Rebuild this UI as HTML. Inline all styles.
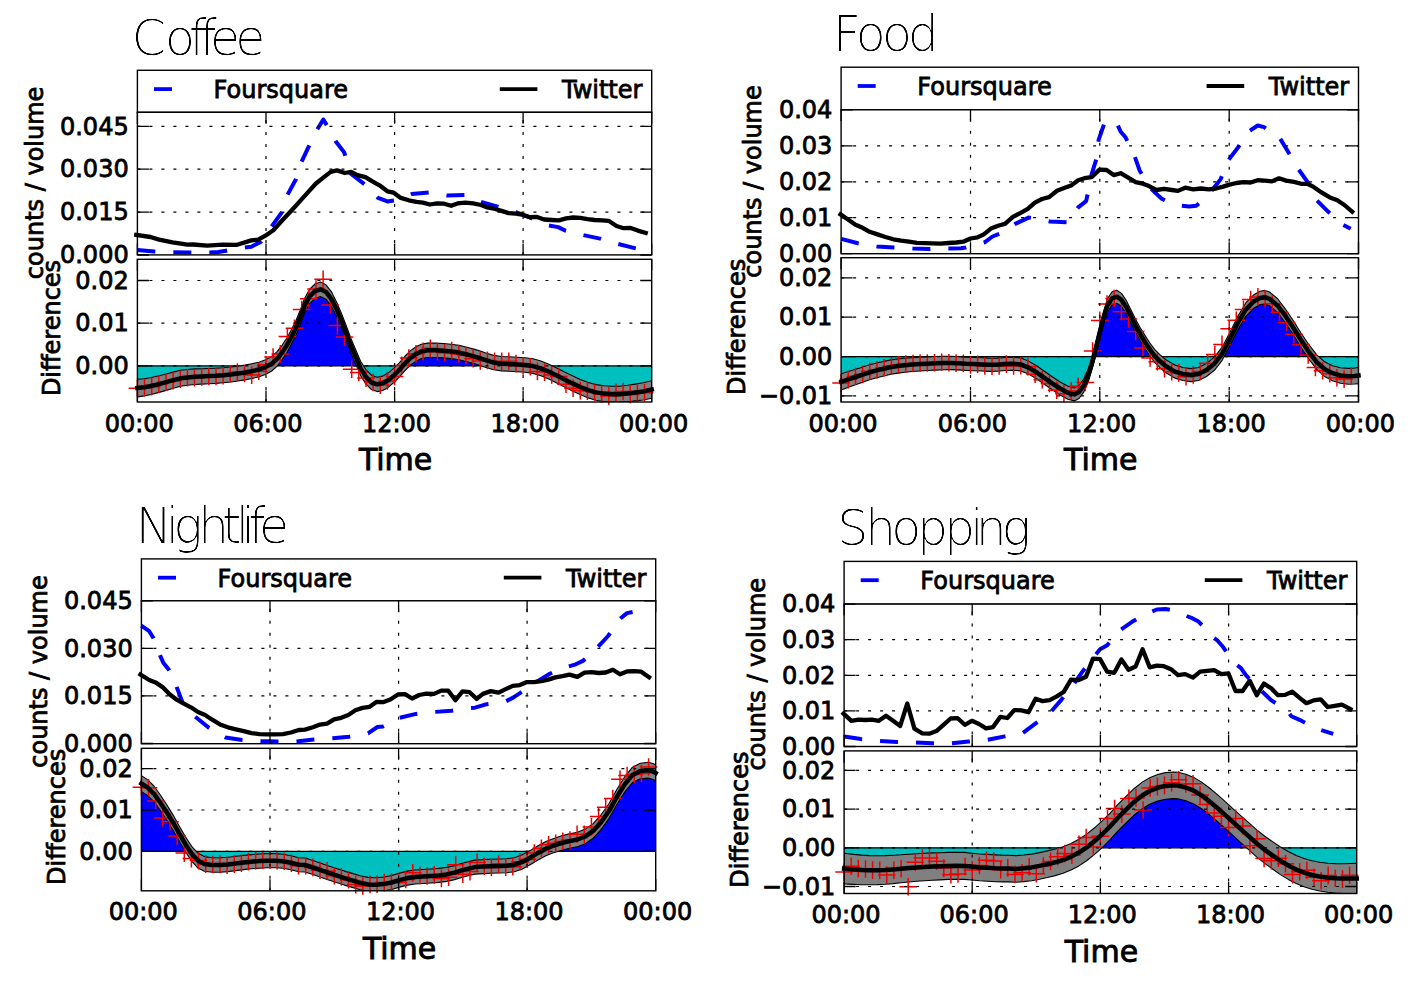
<!DOCTYPE html>
<html><head><meta charset="utf-8"><title>Foursquare vs Twitter</title>
<style>
html,body{margin:0;padding:0;background:#fff;}
svg{display:block;}
text{font-family:'DejaVu Sans', 'Liberation Sans', sans-serif;fill:#000;}
.tl{font-size:24px;stroke:#000;stroke-width:0.8px;}
.lg{font-size:24px;stroke:#000;stroke-width:0.8px;}
.xl{font-size:30px;stroke:#000;stroke-width:0.9px;}
.ttl{font-family:'DejaVu Sans',sans-serif;font-weight:200;font-size:49px;fill:#000;font-variant-ligatures:none;}
.fr{fill:none;stroke:#000;stroke-width:1.4;}
.tk{fill:none;stroke:#000;stroke-width:1.3;}
.grid{fill:none;stroke:#000;stroke-width:1.2;stroke-dasharray:3 9;}
.fs{fill:none;stroke:#0000ff;stroke-width:4;stroke-dasharray:18 18;stroke-linejoin:round;}
.tw{fill:none;stroke:#000;stroke-width:4.3;stroke-linejoin:round;stroke-linecap:square;}
.cv{fill:none;stroke:#000;stroke-width:4.5;stroke-linejoin:round;stroke-linecap:square;}
</style></head><body>
<svg width="1410" height="984" viewBox="0 0 1410 984">
<defs><filter id="thin" x="-5%" y="-10%" width="110%" height="120%"><feComponentTransfer><feFuncA type="linear" slope="1.8" intercept="-0.8"/></feComponentTransfer></filter></defs>
<rect width="1410" height="984" fill="#fff"/>
<text x="131.8 164.9 189.0 199.4 210.0 235.2" y="54.6" class="ttl" filter="url(#thin)">Coffee</text>
<rect x="137.4" y="70.3" width="514.3" height="42.0" class="fr"/>
<line x1="154.0" y1="89.1" x2="172.0" y2="89.1" stroke="#0000ff" stroke-width="3.8"/>
<line x1="499.8" y1="89.1" x2="537.4" y2="89.1" stroke="#000" stroke-width="3.8"/>
<text x="213.6" y="98.1" class="lg">Foursquare</text>
<text x="642.4" y="98.1" class="lg" text-anchor="end">Twitter</text>
<clipPath id="c_coffee_top"><rect x="137.4" y="112.3" width="514.3" height="142.6"/></clipPath>
<rect x="137.4" y="112.3" width="514.3" height="142.6" fill="#fff"/>
<g clip-path="url(#c_coffee_top)">
</g>
<polyline points="137.4,250.0 154.4,251.5 173.3,252.3 190.6,252.6 209.5,252.6 218.2,252.0 226.1,250.7 245.0,247.5 251.3,246.7 260.7,242.0 271.7,226.3 282.0,212.1 287.5,194.8 296.1,179.0 301.6,161.7 308.7,146.7 317.3,129.4 323.3,119.5 326.8,125.2 336.2,142.0 344.2,152.4 350.5,173.5 364.9,184.5 378.0,197.9 387.4,201.4 395.3,200.3 411.8,194.0 429.1,192.4 447.2,195.5 464.6,195.1 481.0,201.9 497.6,206.6 515.7,212.1 529.1,217.2 548.8,225.5 558.2,227.1 564.5,230.3 582.7,235.0 600.0,238.6 617.3,243.7 634.7,248.1 644.5,250.5" class="fs"/>
<polyline points="136.3,234.9 150.5,237.0 159.1,239.6 172.5,242.3 187.5,244.7 193.0,244.5 207.2,245.6 222.9,244.7 237.1,244.8 251.3,240.4 258.3,239.6 265.4,235.7 273.3,230.2 281.2,221.5 292.2,209.7 300.0,201.1 307.9,192.4 315.7,183.7 323.6,177.4 330.7,171.9 337.0,170.4 344.9,173.0 351.2,171.9 357.5,175.1 365.4,177.1 372.4,181.4 379.5,185.3 387.4,191.3 393.7,192.7 400.8,197.9 408.7,200.3 416.5,201.9 422.8,202.6 429.9,204.5 437.0,203.4 444.1,203.7 451.2,205.8 457.5,203.4 465.4,202.6 473.2,203.4 481.0,205.0 487.3,207.4 495.2,209.0 501.5,210.9 508.6,213.1 515.7,213.7 522.0,214.5 529.9,217.2 537.0,216.9 544.1,219.5 551.9,220.0 559.0,220.3 566.1,218.4 573.2,217.5 580.3,217.8 587.4,219.1 594.5,220.0 602.3,220.3 608.6,220.8 616.5,226.0 623.6,228.2 630.7,227.9 637.8,230.6 645.7,232.9" class="tw"/>
<path d="M266.0 254.9V112.3 M394.6 254.9V112.3 M523.1 254.9V112.3 M137.4 126.4H651.7 M137.4 169.2H651.7 M137.4 212.1H651.7" class="grid"/>
<g>
</g>
<path d="M137.4 126.4h11.5M651.7 126.4h-11.5M137.4 169.2h11.5M651.7 169.2h-11.5M137.4 212.1h11.5M651.7 212.1h-11.5M137.4 255.0h11.5M651.7 255.0h-11.5M137.4 254.9v-11.5M137.4 112.3v11.5M266.0 254.9v-11.5M266.0 112.3v11.5M394.6 254.9v-11.5M394.6 112.3v11.5M523.1 254.9v-11.5M523.1 112.3v11.5M651.7 254.9v-11.5M651.7 112.3v11.5" class="tk"/>
<rect x="137.4" y="112.3" width="514.3" height="142.6" class="fr"/>
<text x="128.7" y="134.6" class="tl" text-anchor="end">0.045</text>
<text x="128.7" y="177.4" class="tl" text-anchor="end">0.030</text>
<text x="128.7" y="220.3" class="tl" text-anchor="end">0.015</text>
<text x="128.7" y="263.2" class="tl" text-anchor="end">0.000</text>
<clipPath id="c_coffee_bot"><rect x="137.4" y="259.3" width="514.3" height="142.7"/></clipPath>
<rect x="137.4" y="259.3" width="514.3" height="142.7" fill="#fff"/>
<g clip-path="url(#c_coffee_bot)">
<clipPath id="c_coffee_bot_p"><rect x="137.4" y="259.3" width="514.3" height="106.6"/></clipPath>
<clipPath id="c_coffee_bot_n"><rect x="137.4" y="365.9" width="514.3" height="36.1"/></clipPath>
<polygon points="137.4,365.9 137.4,388.1 144.2,387.3 151.3,386.0 159.1,384.1 166.2,382.2 173.3,380.2 180.4,378.3 187.5,377.4 194.6,376.7 201.7,376.4 208.7,376.1 215.8,375.8 222.9,375.3 230.8,374.5 237.9,373.6 245.0,372.5 252.0,371.1 259.1,369.5 265.4,367.1 271.7,363.7 277.2,358.9 282.0,352.6 286.7,345.6 291.4,336.9 296.1,327.4 300.0,318.0 304.7,305.4 309.4,296.7 315.0,291.2 320.5,289.3 326.0,292.0 331.5,299.1 337.0,310.1 341.7,321.1 346.5,333.7 351.2,346.3 355.9,357.4 360.6,368.4 366.1,377.0 371.7,382.6 377.2,384.4 382.7,383.3 388.2,380.2 393.7,375.5 399.2,370.0 404.7,363.7 410.2,358.1 415.7,354.2 421.3,351.4 427.6,350.3 435.4,350.3 443.3,350.7 451.2,351.4 459.1,352.6 466.9,354.5 474.8,356.6 481.0,358.5 485.8,360.2 493.6,362.6 501.5,363.7 509.4,364.0 517.3,364.5 525.1,365.0 533.0,366.1 540.9,368.4 548.8,371.6 556.7,375.5 564.5,379.5 572.4,383.4 580.3,387.0 588.2,390.2 596.0,392.4 603.9,393.6 611.8,394.3 619.7,394.3 627.5,393.6 635.4,392.5 643.3,391.4 651.7,389.5 651.7,365.9" fill="#0000ff" clip-path="url(#c_coffee_bot_p)"/>
<polygon points="137.4,365.9 137.4,388.1 144.2,387.3 151.3,386.0 159.1,384.1 166.2,382.2 173.3,380.2 180.4,378.3 187.5,377.4 194.6,376.7 201.7,376.4 208.7,376.1 215.8,375.8 222.9,375.3 230.8,374.5 237.9,373.6 245.0,372.5 252.0,371.1 259.1,369.5 265.4,367.1 271.7,363.7 277.2,358.9 282.0,352.6 286.7,345.6 291.4,336.9 296.1,327.4 300.0,318.0 304.7,305.4 309.4,296.7 315.0,291.2 320.5,289.3 326.0,292.0 331.5,299.1 337.0,310.1 341.7,321.1 346.5,333.7 351.2,346.3 355.9,357.4 360.6,368.4 366.1,377.0 371.7,382.6 377.2,384.4 382.7,383.3 388.2,380.2 393.7,375.5 399.2,370.0 404.7,363.7 410.2,358.1 415.7,354.2 421.3,351.4 427.6,350.3 435.4,350.3 443.3,350.7 451.2,351.4 459.1,352.6 466.9,354.5 474.8,356.6 481.0,358.5 485.8,360.2 493.6,362.6 501.5,363.7 509.4,364.0 517.3,364.5 525.1,365.0 533.0,366.1 540.9,368.4 548.8,371.6 556.7,375.5 564.5,379.5 572.4,383.4 580.3,387.0 588.2,390.2 596.0,392.4 603.9,393.6 611.8,394.3 619.7,394.3 627.5,393.6 635.4,392.5 643.3,391.4 651.7,389.5 651.7,365.9" fill="#00bfbf" clip-path="url(#c_coffee_bot_n)"/>
<path d="M137.4 365.9H651.7" stroke="#000" stroke-width="1.2"/>
<polygon points="137.4,379.3 144.2,378.7 151.3,377.5 159.1,375.8 166.2,374.0 173.3,372.1 180.4,370.3 187.5,369.5 194.6,368.9 201.7,368.7 208.7,368.5 215.8,368.2 222.9,367.8 230.8,367.0 237.9,366.2 245.0,365.1 252.0,363.7 259.1,362.2 265.4,359.8 271.7,356.4 277.2,351.6 282.0,345.3 286.7,338.4 291.4,329.7 296.1,320.2 300.0,310.8 304.7,298.2 309.4,289.5 315.0,284.0 320.5,282.1 326.0,284.8 331.5,291.9 337.0,302.9 341.7,313.9 346.5,326.5 351.2,339.1 355.9,350.2 360.6,361.2 366.1,369.8 371.7,375.4 377.2,377.2 382.7,376.1 388.2,373.0 393.7,368.3 399.2,362.8 404.7,356.5 410.2,350.9 415.7,347.0 421.3,344.2 427.6,343.1 435.4,343.1 443.3,343.5 451.2,344.2 459.1,345.4 466.9,347.3 474.8,349.4 481.0,351.3 485.8,353.0 493.6,355.4 501.5,356.5 509.4,356.7 517.3,357.2 525.1,357.7 533.0,358.8 540.9,361.0 548.8,364.2 556.7,368.0 564.5,372.0 572.4,375.8 580.3,379.4 588.2,382.5 596.0,384.6 603.9,385.7 611.8,386.3 619.7,386.2 627.5,385.3 635.4,384.1 643.3,382.8 651.7,380.7 651.7,398.3 643.3,400.0 635.4,400.9 627.5,401.9 619.7,402.4 611.8,402.3 603.9,401.5 596.0,400.2 588.2,397.9 580.3,394.6 572.4,391.0 564.5,387.0 556.7,383.0 548.8,379.0 540.9,375.8 533.0,373.4 525.1,372.3 517.3,371.8 509.4,371.3 501.5,370.9 493.6,369.8 485.8,367.4 481.0,365.7 474.8,363.8 466.9,361.7 459.1,359.8 451.2,358.6 443.3,357.9 435.4,357.5 427.6,357.5 421.3,358.6 415.7,361.4 410.2,365.3 404.7,370.9 399.2,377.2 393.7,382.7 388.2,387.4 382.7,390.5 377.2,391.6 371.7,389.8 366.1,384.2 360.6,375.6 355.9,364.6 351.2,353.5 346.5,340.9 341.7,328.3 337.0,317.3 331.5,306.3 326.0,299.2 320.5,296.5 315.0,298.4 309.4,303.9 304.7,312.6 300.0,325.2 296.1,334.6 291.4,344.1 286.7,352.8 282.0,359.9 277.2,366.2 271.7,371.0 265.4,374.4 259.1,376.8 252.0,378.5 245.0,379.9 237.9,381.0 230.8,382.0 222.9,382.8 215.8,383.4 208.7,383.7 201.7,384.1 194.6,384.5 187.5,385.3 180.4,386.3 173.3,388.3 166.2,390.4 159.1,392.4 151.3,394.5 144.2,395.9 137.4,396.9" fill="#808080" stroke="#000" stroke-width="1.1" stroke-linejoin="round"/>
</g>
<path d="M128.6 388.2h17.6M137.4 379.4v17.6M135.7 387.6h17.6M144.5 378.8v17.6M142.9 386.7h17.6M151.7 377.9v17.6M150.0 384.1h17.6M158.8 375.3v17.6M157.2 382.3h17.6M166.0 373.5v17.6M164.3 380.7h17.6M173.1 371.9v17.6M171.5 379.2h17.6M180.3 370.4v17.6M178.6 377.6h17.6M187.4 368.8v17.6M185.7 377.8h17.6M194.5 369.0v17.6M192.9 377.0h17.6M201.7 368.2v17.6M200.0 376.5h17.6M208.8 367.7v17.6M207.2 376.4h17.6M216.0 367.6v17.6M214.3 375.6h17.6M223.1 366.8v17.6M221.5 373.7h17.6M230.3 364.9v17.6M228.6 372.0h17.6M237.4 363.2v17.6M235.7 373.5h17.6M244.5 364.7v17.6M242.9 375.1h17.6M251.7 366.3v17.6M250.0 371.3h17.6M258.8 362.5v17.6M257.2 364.7h17.6M266.0 355.9v17.6M264.3 357.0h17.6M273.1 348.2v17.6M271.5 353.9h17.6M280.3 345.1v17.6M278.6 336.4h17.6M287.4 327.6v17.6M285.7 328.2h17.6M294.5 319.4v17.6M292.9 309.6h17.6M301.7 300.8v17.6M300.0 298.8h17.6M308.8 290.0v17.6M307.2 289.1h17.6M316.0 280.3v17.6M314.3 279.3h17.6M323.1 270.5v17.6M321.5 304.9h17.6M330.3 296.1v17.6M328.6 325.6h17.6M337.4 316.8v17.6M335.7 337.1h17.6M344.5 328.3v17.6M342.9 369.3h17.6M351.7 360.5v17.6M350.0 372.5h17.6M358.8 363.7v17.6M357.2 378.1h17.6M366.0 369.3v17.6M364.3 382.5h17.6M373.1 373.7v17.6M371.5 385.1h17.6M380.3 376.3v17.6M378.6 381.0h17.6M387.4 372.2v17.6M385.8 376.5h17.6M394.6 367.7v17.6M392.9 365.4h17.6M401.7 356.6v17.6M400.0 358.1h17.6M408.8 349.3v17.6M407.2 353.7h17.6M416.0 344.9v17.6M414.3 351.4h17.6M423.1 342.6v17.6M421.5 348.2h17.6M430.3 339.4v17.6M428.6 351.6h17.6M437.4 342.8v17.6M435.8 352.8h17.6M444.6 344.0v17.6M442.9 350.6h17.6M451.7 341.8v17.6M450.0 353.9h17.6M458.8 345.1v17.6M457.2 355.5h17.6M466.0 346.7v17.6M464.3 358.8h17.6M473.1 350.0v17.6M471.5 361.0h17.6M480.3 352.2v17.6M478.6 360.4h17.6M487.4 351.6v17.6M485.8 361.2h17.6M494.6 352.4v17.6M492.9 361.2h17.6M501.7 352.4v17.6M500.0 361.3h17.6M508.8 352.5v17.6M507.2 363.6h17.6M516.0 354.8v17.6M514.3 366.0h17.6M523.1 357.2v17.6M521.5 366.7h17.6M530.3 357.9v17.6M528.6 371.4h17.6M537.4 362.6v17.6M535.8 372.1h17.6M544.6 363.3v17.6M542.9 374.9h17.6M551.7 366.1v17.6M550.0 376.5h17.6M558.8 367.7v17.6M557.2 384.2h17.6M566.0 375.4v17.6M564.3 388.3h17.6M573.1 379.5v17.6M571.5 390.6h17.6M580.3 381.8v17.6M578.6 391.1h17.6M587.4 382.3v17.6M585.8 392.0h17.6M594.6 383.2v17.6M592.9 394.0h17.6M601.7 385.2v17.6M600.0 396.1h17.6M608.8 387.3v17.6M607.2 392.3h17.6M616.0 383.5v17.6M614.3 391.5h17.6M623.1 382.7v17.6M621.5 394.4h17.6M630.3 385.6v17.6M628.6 393.2h17.6M637.4 384.4v17.6M635.8 392.7h17.6M644.6 383.9v17.6" stroke="#ee0000" stroke-width="1.5" fill="none"/>
<polyline points="137.4,388.1 144.2,387.3 151.3,386.0 159.1,384.1 166.2,382.2 173.3,380.2 180.4,378.3 187.5,377.4 194.6,376.7 201.7,376.4 208.7,376.1 215.8,375.8 222.9,375.3 230.8,374.5 237.9,373.6 245.0,372.5 252.0,371.1 259.1,369.5 265.4,367.1 271.7,363.7 277.2,358.9 282.0,352.6 286.7,345.6 291.4,336.9 296.1,327.4 300.0,318.0 304.7,305.4 309.4,296.7 315.0,291.2 320.5,289.3 326.0,292.0 331.5,299.1 337.0,310.1 341.7,321.1 346.5,333.7 351.2,346.3 355.9,357.4 360.6,368.4 366.1,377.0 371.7,382.6 377.2,384.4 382.7,383.3 388.2,380.2 393.7,375.5 399.2,370.0 404.7,363.7 410.2,358.1 415.7,354.2 421.3,351.4 427.6,350.3 435.4,350.3 443.3,350.7 451.2,351.4 459.1,352.6 466.9,354.5 474.8,356.6 481.0,358.5 485.8,360.2 493.6,362.6 501.5,363.7 509.4,364.0 517.3,364.5 525.1,365.0 533.0,366.1 540.9,368.4 548.8,371.6 556.7,375.5 564.5,379.5 572.4,383.4 580.3,387.0 588.2,390.2 596.0,392.4 603.9,393.6 611.8,394.3 619.7,394.3 627.5,393.6 635.4,392.5 643.3,391.4 651.7,389.5" class="cv"/>
<path d="M266.0 402.0V259.3 M394.6 402.0V259.3 M523.1 402.0V259.3 M137.4 280.5H651.7 M137.4 323.2H651.7 M137.4 365.9H651.7" class="grid"/>
<g>
</g>
<path d="M137.4 280.5h11.5M651.7 280.5h-11.5M137.4 323.2h11.5M651.7 323.2h-11.5M137.4 365.9h11.5M651.7 365.9h-11.5M137.4 402.0v-11.5M137.4 259.3v11.5M266.0 402.0v-11.5M266.0 259.3v11.5M394.6 402.0v-11.5M394.6 259.3v11.5M523.1 402.0v-11.5M523.1 259.3v11.5M651.7 402.0v-11.5M651.7 259.3v11.5" class="tk"/>
<rect x="137.4" y="259.3" width="514.3" height="142.7" class="fr"/>
<text x="128.7" y="288.7" class="tl" text-anchor="end">0.02</text>
<text x="128.7" y="331.4" class="tl" text-anchor="end">0.01</text>
<text x="128.7" y="374.1" class="tl" text-anchor="end">0.00</text>
<text x="139.3" y="431.6" class="tl" text-anchor="middle">00:00</text>
<text x="267.9" y="431.6" class="tl" text-anchor="middle">06:00</text>
<text x="396.5" y="431.6" class="tl" text-anchor="middle">12:00</text>
<text x="525.0" y="431.6" class="tl" text-anchor="middle">18:00</text>
<text x="653.6" y="431.6" class="tl" text-anchor="middle">00:00</text>
<text x="395.6" y="470.2" class="xl" text-anchor="middle">Time</text>
<text transform="translate(42.9 182.9) rotate(-90)" class="tl" text-anchor="middle">counts / volume</text>
<text transform="translate(60.2 328.0) rotate(-90)" class="tl" text-anchor="middle">Differences</text>
<text x="832.8 855.8 881.9 907.8" y="50.6" class="ttl" filter="url(#thin)">Food</text>
<rect x="841.1" y="67.2" width="517.4" height="42.6" class="fr"/>
<line x1="857.7" y1="86.0" x2="875.7" y2="86.0" stroke="#0000ff" stroke-width="3.8"/>
<line x1="1206.6" y1="86.0" x2="1244.2" y2="86.0" stroke="#000" stroke-width="3.8"/>
<text x="917.3" y="95.0" class="lg">Foursquare</text>
<text x="1349.2" y="95.0" class="lg" text-anchor="end">Twitter</text>
<clipPath id="c_food_top"><rect x="841.1" y="109.8" width="517.4" height="143.9"/></clipPath>
<rect x="841.1" y="109.8" width="517.4" height="143.9" fill="#fff"/>
<g clip-path="url(#c_food_top)">
</g>
<polyline points="841.3,238.9 857.8,243.3 876.7,246.4 894.1,247.5 913.0,248.6 930.3,249.1 949.2,248.6 961.0,248.3 965.7,247.5 984.6,242.3 992.5,236.5 999.6,233.8 1015.2,223.9 1028.6,217.6 1031.0,217.9 1049.9,221.5 1067.2,222.3 1078.2,207.4 1086.1,201.1 1087.7,194.0 1091.6,174.3 1096.3,159.3 1098.7,139.6 1104.2,123.9 1110.5,120.0 1116.8,123.1 1120.7,131.8 1125.5,137.3 1134.1,154.6 1139.6,170.4 1149.9,187.7 1161.7,198.7 1172.0,204.0 1178.9,205.5 1189.2,206.6 1196.3,205.8 1203.4,199.5 1210.4,192.4 1220.7,179.1 1227.8,160.9 1238.0,147.5 1248.3,131.8 1257.7,125.5 1264.0,127.1 1279.8,138.1 1288.4,152.3 1298.7,169.6 1308.9,183.8 1316.0,199.5 1328.6,212.1 1342.8,224.7 1350.7,228.7" class="fs"/>
<polyline points="840.5,214.4 847.6,219.2 855.5,224.7 862.6,227.8 869.6,231.8 877.5,234.4 885.4,237.0 893.3,239.3 901.1,240.7 909.0,241.7 916.9,242.8 924.8,243.1 932.6,243.3 940.5,243.7 948.4,243.0 956.3,242.5 963.3,241.7 970.4,238.5 977.5,237.3 983.8,234.4 990.9,228.6 998.8,225.5 1005.0,223.9 1012.9,216.8 1020.7,212.9 1027.8,208.9 1034.9,202.6 1042.0,199.0 1049.1,197.1 1057.0,190.8 1064.1,188.1 1071.1,185.6 1078.2,180.3 1084.5,178.2 1091.6,177.1 1099.5,169.6 1106.6,170.0 1113.7,175.1 1120.7,173.2 1127.8,177.4 1135.7,182.2 1142.8,183.7 1149.1,186.1 1156.2,190.0 1164.1,188.9 1171.9,190.0 1178.0,190.9 1185.2,187.7 1193.1,189.3 1201.0,188.5 1208.9,189.3 1216.0,188.5 1222.3,186.9 1229.4,184.6 1236.4,183.0 1243.5,182.2 1250.6,182.5 1257.7,180.2 1264.8,180.6 1271.9,181.4 1279.0,178.3 1286.1,180.6 1294.0,181.9 1301.0,183.8 1307.3,183.8 1313.6,186.9 1321.5,192.4 1329.4,197.2 1337.3,200.3 1344.4,205.0 1352.2,211.8" class="tw"/>
<path d="M970.5 253.7V109.8 M1099.8 253.7V109.8 M1229.2 253.7V109.8 M841.1 145.8H1358.5 M841.1 181.8H1358.5 M841.1 217.7H1358.5" class="grid"/>
<g>
</g>
<path d="M841.1 109.8h11.5M1358.5 109.8h-11.5M841.1 145.8h11.5M1358.5 145.8h-11.5M841.1 181.8h11.5M1358.5 181.8h-11.5M841.1 217.7h11.5M1358.5 217.7h-11.5M841.1 253.7h11.5M1358.5 253.7h-11.5M841.1 253.7v-11.5M841.1 109.8v11.5M970.5 253.7v-11.5M970.5 109.8v11.5M1099.8 253.7v-11.5M1099.8 109.8v11.5M1229.2 253.7v-11.5M1229.2 109.8v11.5M1358.5 253.7v-11.5M1358.5 109.8v11.5" class="tk"/>
<rect x="841.1" y="109.8" width="517.4" height="143.9" class="fr"/>
<text x="832.4" y="118.0" class="tl" text-anchor="end">0.04</text>
<text x="832.4" y="154.0" class="tl" text-anchor="end">0.03</text>
<text x="832.4" y="189.9" class="tl" text-anchor="end">0.02</text>
<text x="832.4" y="225.9" class="tl" text-anchor="end">0.01</text>
<text x="832.4" y="261.9" class="tl" text-anchor="end">0.00</text>
<clipPath id="c_food_bot"><rect x="841.1" y="257.7" width="517.4" height="144.3"/></clipPath>
<rect x="841.1" y="257.7" width="517.4" height="144.3" fill="#fff"/>
<g clip-path="url(#c_food_bot)">
<clipPath id="c_food_bot_p"><rect x="841.1" y="257.7" width="517.4" height="98.9"/></clipPath>
<clipPath id="c_food_bot_n"><rect x="841.1" y="356.6" width="517.4" height="45.4"/></clipPath>
<polygon points="841.3,356.6 841.3,381.8 848.4,379.4 855.5,377.0 862.6,374.7 869.6,372.3 876.7,370.4 883.8,368.7 890.9,367.1 898.0,366.0 905.1,365.2 912.2,364.6 920.0,364.1 927.9,363.7 935.8,363.3 943.7,363.0 950.7,362.9 957.8,363.3 965.7,363.8 973.6,364.1 981.5,364.4 989.3,364.8 997.2,364.8 1005.0,364.0 1012.9,363.7 1020.7,364.4 1028.6,367.6 1036.5,372.3 1044.4,377.8 1052.2,383.3 1060.1,388.5 1068.0,392.8 1074.3,394.4 1079.0,392.0 1083.7,385.7 1088.5,374.7 1093.2,358.9 1097.9,340.0 1102.6,321.1 1107.4,305.4 1112.1,298.3 1116.8,296.7 1121.5,299.9 1126.3,307.0 1131.0,316.4 1135.7,325.9 1140.4,334.5 1145.2,342.4 1149.9,349.5 1154.6,355.8 1160.1,361.3 1165.6,366.0 1171.9,369.9 1175.0,371.6 1182.9,374.0 1190.8,375.1 1198.6,374.0 1206.5,370.0 1214.4,363.7 1222.3,353.5 1230.1,338.5 1238.0,322.7 1245.9,309.4 1253.8,301.5 1260.1,297.9 1264.8,297.2 1269.5,298.8 1277.4,305.4 1285.3,315.7 1293.2,327.5 1301.0,340.1 1308.9,351.9 1316.8,362.1 1324.7,369.2 1332.5,373.2 1340.4,375.5 1348.3,376.3 1354.6,376.0 1358.5,375.5 1358.5,356.6" fill="#0000ff" clip-path="url(#c_food_bot_p)"/>
<polygon points="841.3,356.6 841.3,381.8 848.4,379.4 855.5,377.0 862.6,374.7 869.6,372.3 876.7,370.4 883.8,368.7 890.9,367.1 898.0,366.0 905.1,365.2 912.2,364.6 920.0,364.1 927.9,363.7 935.8,363.3 943.7,363.0 950.7,362.9 957.8,363.3 965.7,363.8 973.6,364.1 981.5,364.4 989.3,364.8 997.2,364.8 1005.0,364.0 1012.9,363.7 1020.7,364.4 1028.6,367.6 1036.5,372.3 1044.4,377.8 1052.2,383.3 1060.1,388.5 1068.0,392.8 1074.3,394.4 1079.0,392.0 1083.7,385.7 1088.5,374.7 1093.2,358.9 1097.9,340.0 1102.6,321.1 1107.4,305.4 1112.1,298.3 1116.8,296.7 1121.5,299.9 1126.3,307.0 1131.0,316.4 1135.7,325.9 1140.4,334.5 1145.2,342.4 1149.9,349.5 1154.6,355.8 1160.1,361.3 1165.6,366.0 1171.9,369.9 1175.0,371.6 1182.9,374.0 1190.8,375.1 1198.6,374.0 1206.5,370.0 1214.4,363.7 1222.3,353.5 1230.1,338.5 1238.0,322.7 1245.9,309.4 1253.8,301.5 1260.1,297.9 1264.8,297.2 1269.5,298.8 1277.4,305.4 1285.3,315.7 1293.2,327.5 1301.0,340.1 1308.9,351.9 1316.8,362.1 1324.7,369.2 1332.5,373.2 1340.4,375.5 1348.3,376.3 1354.6,376.0 1358.5,375.5 1358.5,356.6" fill="#00bfbf" clip-path="url(#c_food_bot_n)"/>
<path d="M841.1 356.6H1358.5" stroke="#000" stroke-width="1.2"/>
<polygon points="841.3,373.7 848.4,371.5 855.5,369.2 862.6,367.1 869.6,364.8 876.7,363.0 883.8,361.4 890.9,359.9 898.0,358.9 905.1,358.2 912.2,357.7 920.0,357.2 927.9,356.9 935.8,356.5 943.7,356.3 950.7,356.2 957.8,356.7 965.7,357.2 973.6,357.5 981.5,357.8 989.3,358.2 997.2,358.3 1005.0,357.5 1012.9,357.2 1020.7,357.9 1028.6,361.1 1036.5,365.8 1044.4,371.3 1052.2,376.8 1060.1,382.0 1068.0,386.3 1074.3,387.9 1079.0,385.5 1083.7,379.2 1088.5,368.2 1093.2,352.4 1097.9,333.5 1102.6,314.6 1107.4,298.9 1112.1,291.8 1116.8,290.2 1121.5,293.4 1126.3,300.5 1131.0,309.9 1135.7,319.4 1140.4,328.0 1145.2,335.9 1149.9,343.0 1154.6,349.3 1160.1,354.8 1165.6,359.5 1171.9,363.4 1175.0,365.1 1182.9,367.5 1190.8,368.6 1198.6,367.5 1206.5,363.5 1214.4,357.1 1222.3,346.9 1230.1,331.9 1238.0,316.1 1245.9,302.7 1253.8,294.8 1260.1,291.2 1264.8,290.4 1269.5,292.0 1277.4,298.5 1285.3,308.8 1293.2,320.5 1301.0,333.0 1308.9,344.7 1316.8,354.8 1324.7,361.8 1332.5,365.7 1340.4,367.8 1348.3,368.4 1354.6,368.0 1358.5,367.4 1358.5,383.6 1354.6,384.0 1348.3,384.2 1340.4,383.2 1332.5,380.7 1324.7,376.6 1316.8,369.4 1308.9,359.1 1301.0,347.2 1293.2,334.5 1285.3,322.6 1277.4,312.3 1269.5,305.6 1264.8,304.0 1260.1,304.6 1253.8,308.2 1245.9,316.1 1238.0,329.3 1230.1,345.1 1222.3,360.1 1214.4,370.3 1206.5,376.5 1198.6,380.5 1190.8,381.6 1182.9,380.5 1175.0,378.1 1171.9,376.4 1165.6,372.5 1160.1,367.8 1154.6,362.3 1149.9,356.0 1145.2,348.9 1140.4,341.0 1135.7,332.4 1131.0,322.9 1126.3,313.5 1121.5,306.4 1116.8,303.2 1112.1,304.8 1107.4,311.9 1102.6,327.6 1097.9,346.5 1093.2,365.4 1088.5,381.2 1083.7,392.2 1079.0,398.5 1074.3,400.9 1068.0,399.3 1060.1,395.0 1052.2,389.8 1044.4,384.3 1036.5,378.8 1028.6,374.1 1020.7,370.9 1012.9,370.2 1005.0,370.5 997.2,371.3 989.3,371.4 981.5,371.0 973.6,370.7 965.7,370.4 957.8,369.9 950.7,369.6 943.7,369.7 935.8,370.1 927.9,370.5 920.0,371.0 912.2,371.5 905.1,372.2 898.0,373.1 890.9,374.3 883.8,376.0 876.7,377.8 869.6,379.8 862.6,382.3 855.5,384.8 848.4,387.3 841.3,389.9" fill="#808080" stroke="#000" stroke-width="1.1" stroke-linejoin="round"/>
</g>
<path d="M832.3 382.9h17.6M841.1 374.1v17.6M839.5 379.6h17.6M848.3 370.8v17.6M846.7 376.3h17.6M855.5 367.5v17.6M853.9 374.4h17.6M862.7 365.6v17.6M861.0 371.2h17.6M869.8 362.4v17.6M868.2 369.9h17.6M877.0 361.1v17.6M875.4 367.8h17.6M884.2 359.0v17.6M882.6 366.0h17.6M891.4 357.2v17.6M889.8 364.8h17.6M898.6 356.0v17.6M897.0 364.1h17.6M905.8 355.3v17.6M904.2 363.5h17.6M913.0 354.7v17.6M911.3 363.0h17.6M920.1 354.2v17.6M918.5 363.0h17.6M927.3 354.2v17.6M925.7 362.7h17.6M934.5 353.9v17.6M932.9 362.3h17.6M941.7 353.5v17.6M940.1 362.8h17.6M948.9 354.0v17.6M947.3 363.1h17.6M956.1 354.3v17.6M954.5 363.4h17.6M963.3 354.6v17.6M961.7 365.0h17.6M970.5 356.2v17.6M968.8 364.2h17.6M977.6 355.4v17.6M976.0 366.0h17.6M984.8 357.2v17.6M983.2 366.1h17.6M992.0 357.3v17.6M990.4 365.9h17.6M999.2 357.1v17.6M997.6 364.1h17.6M1006.4 355.3v17.6M1004.8 365.9h17.6M1013.6 357.1v17.6M1012.0 365.8h17.6M1020.8 357.0v17.6M1019.1 366.6h17.6M1027.9 357.8v17.6M1026.3 374.3h17.6M1035.1 365.5v17.6M1033.5 379.7h17.6M1042.3 370.9v17.6M1040.7 383.5h17.6M1049.5 374.7v17.6M1047.9 390.2h17.6M1056.7 381.4v17.6M1055.1 393.7h17.6M1063.9 384.9v17.6M1062.3 391.0h17.6M1071.1 382.2v17.6M1069.4 386.2h17.6M1078.2 377.4v17.6M1076.6 382.4h17.6M1085.4 373.6v17.6M1083.8 351.1h17.6M1092.6 342.3v17.6M1091.0 320.4h17.6M1099.8 311.6v17.6M1098.2 304.1h17.6M1107.0 295.3v17.6M1105.4 298.5h17.6M1114.2 289.7v17.6M1112.6 311.8h17.6M1121.4 303.0v17.6M1119.7 319.0h17.6M1128.5 310.2v17.6M1126.9 331.6h17.6M1135.7 322.8v17.6M1134.1 348.1h17.6M1142.9 339.3v17.6M1141.3 358.0h17.6M1150.1 349.2v17.6M1148.5 361.8h17.6M1157.3 353.0v17.6M1155.7 368.8h17.6M1164.5 360.0v17.6M1162.9 371.7h17.6M1171.7 362.9v17.6M1170.0 372.9h17.6M1178.8 364.1v17.6M1177.2 376.7h17.6M1186.0 367.9v17.6M1184.4 375.0h17.6M1193.2 366.2v17.6M1191.6 371.5h17.6M1200.4 362.7v17.6M1198.8 363.2h17.6M1207.6 354.4v17.6M1206.0 354.5h17.6M1214.8 345.7v17.6M1213.2 344.4h17.6M1222.0 335.6v17.6M1220.4 328.7h17.6M1229.2 319.9v17.6M1227.5 320.2h17.6M1236.3 311.4v17.6M1234.7 309.5h17.6M1243.5 300.7v17.6M1241.9 299.5h17.6M1250.7 290.7v17.6M1249.1 296.9h17.6M1257.9 288.1v17.6M1256.3 298.9h17.6M1265.1 290.1v17.6M1263.5 303.7h17.6M1272.3 294.9v17.6M1270.7 312.3h17.6M1279.5 303.5v17.6M1277.8 322.4h17.6M1286.6 313.6v17.6M1285.0 334.2h17.6M1293.8 325.4v17.6M1292.2 344.6h17.6M1301.0 335.8v17.6M1299.4 355.0h17.6M1308.2 346.2v17.6M1306.6 367.5h17.6M1315.4 358.7v17.6M1313.8 370.8h17.6M1322.6 362.0v17.6M1321.0 373.8h17.6M1329.8 365.0v17.6M1328.1 377.7h17.6M1336.9 368.9v17.6M1335.3 379.1h17.6M1344.1 370.3v17.6M1342.5 375.9h17.6M1351.3 367.1v17.6" stroke="#ee0000" stroke-width="1.5" fill="none"/>
<polyline points="841.3,381.8 848.4,379.4 855.5,377.0 862.6,374.7 869.6,372.3 876.7,370.4 883.8,368.7 890.9,367.1 898.0,366.0 905.1,365.2 912.2,364.6 920.0,364.1 927.9,363.7 935.8,363.3 943.7,363.0 950.7,362.9 957.8,363.3 965.7,363.8 973.6,364.1 981.5,364.4 989.3,364.8 997.2,364.8 1005.0,364.0 1012.9,363.7 1020.7,364.4 1028.6,367.6 1036.5,372.3 1044.4,377.8 1052.2,383.3 1060.1,388.5 1068.0,392.8 1074.3,394.4 1079.0,392.0 1083.7,385.7 1088.5,374.7 1093.2,358.9 1097.9,340.0 1102.6,321.1 1107.4,305.4 1112.1,298.3 1116.8,296.7 1121.5,299.9 1126.3,307.0 1131.0,316.4 1135.7,325.9 1140.4,334.5 1145.2,342.4 1149.9,349.5 1154.6,355.8 1160.1,361.3 1165.6,366.0 1171.9,369.9 1175.0,371.6 1182.9,374.0 1190.8,375.1 1198.6,374.0 1206.5,370.0 1214.4,363.7 1222.3,353.5 1230.1,338.5 1238.0,322.7 1245.9,309.4 1253.8,301.5 1260.1,297.9 1264.8,297.2 1269.5,298.8 1277.4,305.4 1285.3,315.7 1293.2,327.5 1301.0,340.1 1308.9,351.9 1316.8,362.1 1324.7,369.2 1332.5,373.2 1340.4,375.5 1348.3,376.3 1354.6,376.0 1358.5,375.5" class="cv"/>
<path d="M970.5 402.0V257.7 M1099.8 402.0V257.7 M1229.2 402.0V257.7 M841.1 277.8H1358.5 M841.1 317.2H1358.5 M841.1 356.6H1358.5 M841.1 395.9H1358.5" class="grid"/>
<g>
</g>
<path d="M841.1 277.8h11.5M1358.5 277.8h-11.5M841.1 317.2h11.5M1358.5 317.2h-11.5M841.1 356.6h11.5M1358.5 356.6h-11.5M841.1 395.9h11.5M1358.5 395.9h-11.5M841.1 402.0v-11.5M841.1 257.7v11.5M970.5 402.0v-11.5M970.5 257.7v11.5M1099.8 402.0v-11.5M1099.8 257.7v11.5M1229.2 402.0v-11.5M1229.2 257.7v11.5M1358.5 402.0v-11.5M1358.5 257.7v11.5" class="tk"/>
<rect x="841.1" y="257.7" width="517.4" height="144.3" class="fr"/>
<text x="832.4" y="286.0" class="tl" text-anchor="end">0.02</text>
<text x="832.4" y="325.4" class="tl" text-anchor="end">0.01</text>
<text x="832.4" y="364.8" class="tl" text-anchor="end">0.00</text>
<text x="832.4" y="404.1" class="tl" text-anchor="end">−0.01</text>
<text x="843.0" y="431.6" class="tl" text-anchor="middle">00:00</text>
<text x="972.4" y="431.6" class="tl" text-anchor="middle">06:00</text>
<text x="1101.7" y="431.6" class="tl" text-anchor="middle">12:00</text>
<text x="1231.1" y="431.6" class="tl" text-anchor="middle">18:00</text>
<text x="1360.4" y="431.6" class="tl" text-anchor="middle">00:00</text>
<text x="1100.8" y="470.2" class="xl" text-anchor="middle">Time</text>
<text transform="translate(761.3 181.5) rotate(-90)" class="tl" text-anchor="middle">counts / volume</text>
<text transform="translate(744.6 326.9) rotate(-90)" class="tl" text-anchor="middle">Differences</text>
<text x="135.6 165.7 173.3 198.1 222.0 235.8 241.5 248.2 259.0" y="542.8" class="ttl" filter="url(#thin)">Nightlife</text>
<rect x="141.4" y="558.9" width="514.3" height="41.9" class="fr"/>
<line x1="158.0" y1="577.7" x2="176.0" y2="577.7" stroke="#0000ff" stroke-width="3.8"/>
<line x1="503.8" y1="577.7" x2="541.4" y2="577.7" stroke="#000" stroke-width="3.8"/>
<text x="217.6" y="586.7" class="lg">Foursquare</text>
<text x="646.4" y="586.7" class="lg" text-anchor="end">Twitter</text>
<clipPath id="c_night_top"><rect x="141.4" y="600.8" width="514.3" height="142.9"/></clipPath>
<rect x="141.4" y="600.8" width="514.3" height="142.9" fill="#fff"/>
<g clip-path="url(#c_night_top)">
</g>
<polyline points="141.3,625.7 149.2,631.2 153.1,637.5 157.0,647.0 160.2,655.6 163.3,662.7 168.9,669.8 173.6,678.5 176.7,687.1 183.0,703.7 188.5,710.7 195.6,717.0 208.2,727.3 216.9,732.8 225.6,737.5 242.1,739.9 261.0,741.1 277.5,741.5 296.4,741.5 313.7,739.6 332.6,738.3 349.1,736.7 360.1,735.2 368.0,733.3 377.4,727.0 383.0,726.5 391.6,722.6 399.5,717.8 416.0,713.9 434.9,711.9 451.5,710.7 470.4,708.1 475.0,707.7 486.8,704.2 496.3,702.9 505.7,701.4 513.6,697.4 520.7,692.7 528.6,687.2 538.0,680.9 549.8,673.8 558.5,669.8 568.0,666.7 575.8,664.3 582.9,660.9 590.0,654.9 597.1,647.8 608.1,636.0 613.6,628.1 618.4,620.2 627.0,613.1 632.6,612.0" class="fs"/>
<polyline points="140.5,674.5 149.2,680.0 155.5,682.4 162.6,687.1 169.6,694.2 176.7,699.7 183.8,703.7 190.9,707.3 198.0,712.0 205.1,715.0 212.2,719.7 220.0,724.4 227.9,727.3 235.8,729.3 243.7,731.2 251.5,733.1 259.4,734.1 267.3,734.4 275.2,734.4 283.0,734.1 290.9,732.5 298.8,730.0 305.0,729.6 312.9,727.3 320.0,724.6 327.0,723.7 334.1,719.4 341.2,717.8 348.3,715.0 355.4,710.3 362.5,707.9 369.6,706.8 376.7,701.8 383.7,702.1 390.8,699.3 397.9,694.5 405.0,694.2 412.1,698.5 419.2,695.0 426.3,693.7 434.1,693.9 441.2,690.6 448.3,690.7 455.4,700.2 462.5,691.4 469.6,692.2 476.7,698.9 482.9,693.9 490.8,691.1 498.6,692.7 505.7,689.1 512.8,685.9 519.9,685.1 527.0,682.1 534.1,682.1 541.2,681.2 548.3,679.6 555.4,677.4 562.4,676.1 569.5,674.6 577.4,676.9 584.5,672.7 591.6,672.2 598.7,673.0 605.8,672.5 612.9,669.8 620.0,674.3 627.0,671.4 634.1,671.1 641.2,671.7 649.1,677.2" class="tw"/>
<path d="M270.0 743.7V600.8 M398.6 743.7V600.8 M527.1 743.7V600.8 M141.4 648.3H655.7 M141.4 695.9H655.7" class="grid"/>
<g>
</g>
<path d="M141.4 600.8h11.5M655.7 600.8h-11.5M141.4 648.3h11.5M655.7 648.3h-11.5M141.4 695.9h11.5M655.7 695.9h-11.5M141.4 743.5h11.5M655.7 743.5h-11.5M141.4 743.7v-11.5M141.4 600.8v11.5M270.0 743.7v-11.5M270.0 600.8v11.5M398.6 743.7v-11.5M398.6 600.8v11.5M527.1 743.7v-11.5M527.1 600.8v11.5M655.7 743.7v-11.5M655.7 600.8v11.5" class="tk"/>
<rect x="141.4" y="600.8" width="514.3" height="142.9" class="fr"/>
<text x="132.7" y="609.0" class="tl" text-anchor="end">0.045</text>
<text x="132.7" y="656.5" class="tl" text-anchor="end">0.030</text>
<text x="132.7" y="704.1" class="tl" text-anchor="end">0.015</text>
<text x="132.7" y="751.7" class="tl" text-anchor="end">0.000</text>
<clipPath id="c_night_bot"><rect x="141.4" y="748.3" width="514.3" height="142.5"/></clipPath>
<rect x="141.4" y="748.3" width="514.3" height="142.5" fill="#fff"/>
<g clip-path="url(#c_night_bot)">
<clipPath id="c_night_bot_p"><rect x="141.4" y="748.3" width="514.3" height="103.0"/></clipPath>
<clipPath id="c_night_bot_n"><rect x="141.4" y="851.3" width="514.3" height="39.5"/></clipPath>
<polygon points="141.4,851.3 141.4,783.6 147.6,787.5 153.9,793.8 160.2,802.5 166.5,811.9 172.8,822.2 179.1,833.2 185.4,844.2 191.7,853.7 198.0,860.7 204.3,863.9 212.2,865.0 220.0,865.0 227.9,864.4 235.8,863.4 243.7,862.5 251.5,861.7 259.4,861.1 267.3,860.7 275.2,860.7 283.0,861.2 290.9,862.8 298.8,864.7 305.0,865.0 312.9,867.5 320.7,870.2 328.6,872.9 336.5,875.4 344.4,878.1 352.2,880.4 360.1,882.8 368.0,884.4 375.9,884.7 383.7,884.1 391.6,882.5 399.5,880.1 407.4,878.1 415.2,877.0 423.1,876.5 431.0,876.0 438.9,875.4 446.7,874.4 454.6,872.6 462.5,870.2 470.4,868.1 475.0,867.1 482.9,866.6 490.8,866.3 498.6,866.0 506.5,865.7 514.4,864.7 522.3,861.9 530.1,857.7 538.0,852.9 545.9,848.7 553.8,845.5 561.7,843.0 569.5,841.1 577.4,839.5 585.3,836.4 593.2,830.9 601.0,822.2 608.9,811.2 616.8,797.0 624.7,784.4 632.5,774.9 640.4,771.0 648.3,770.2 653.0,771.5 655.7,773.0 655.7,851.3" fill="#0000ff" clip-path="url(#c_night_bot_p)"/>
<polygon points="141.4,851.3 141.4,783.6 147.6,787.5 153.9,793.8 160.2,802.5 166.5,811.9 172.8,822.2 179.1,833.2 185.4,844.2 191.7,853.7 198.0,860.7 204.3,863.9 212.2,865.0 220.0,865.0 227.9,864.4 235.8,863.4 243.7,862.5 251.5,861.7 259.4,861.1 267.3,860.7 275.2,860.7 283.0,861.2 290.9,862.8 298.8,864.7 305.0,865.0 312.9,867.5 320.7,870.2 328.6,872.9 336.5,875.4 344.4,878.1 352.2,880.4 360.1,882.8 368.0,884.4 375.9,884.7 383.7,884.1 391.6,882.5 399.5,880.1 407.4,878.1 415.2,877.0 423.1,876.5 431.0,876.0 438.9,875.4 446.7,874.4 454.6,872.6 462.5,870.2 470.4,868.1 475.0,867.1 482.9,866.6 490.8,866.3 498.6,866.0 506.5,865.7 514.4,864.7 522.3,861.9 530.1,857.7 538.0,852.9 545.9,848.7 553.8,845.5 561.7,843.0 569.5,841.1 577.4,839.5 585.3,836.4 593.2,830.9 601.0,822.2 608.9,811.2 616.8,797.0 624.7,784.4 632.5,774.9 640.4,771.0 648.3,770.2 653.0,771.5 655.7,773.0 655.7,851.3" fill="#00bfbf" clip-path="url(#c_night_bot_n)"/>
<path d="M141.4 851.3H655.7" stroke="#000" stroke-width="1.2"/>
<polygon points="141.4,775.6 147.6,779.6 153.9,786.0 160.2,794.8 166.5,804.2 172.8,814.6 179.1,825.7 185.4,836.7 191.7,846.3 198.0,853.3 204.3,856.6 212.2,857.7 220.0,857.8 227.9,857.2 235.8,856.2 243.7,855.4 251.5,854.6 259.4,854.0 267.3,853.6 275.2,853.6 283.0,854.2 290.9,855.8 298.8,857.7 305.0,858.0 312.9,860.5 320.7,863.2 328.6,865.9 336.5,868.4 344.4,871.1 352.2,873.4 360.1,875.8 368.0,877.4 375.9,877.7 383.7,877.1 391.6,875.5 399.5,873.1 407.4,871.1 415.2,870.0 423.1,869.5 431.0,869.0 438.9,868.4 446.7,867.4 454.6,865.6 462.5,863.2 470.4,861.1 475.0,860.1 482.9,859.6 490.8,859.3 498.6,859.0 506.5,858.7 514.4,857.7 522.3,854.8 530.1,850.6 538.0,845.8 545.9,841.6 553.8,838.4 561.7,835.8 569.5,833.9 577.4,832.3 585.3,829.1 593.2,823.6 601.0,814.8 608.9,803.8 616.8,789.5 624.7,776.8 632.5,767.2 640.4,763.2 648.3,762.3 653.0,763.5 655.7,765.0 655.7,781.0 653.0,779.5 648.3,778.1 640.4,778.8 632.5,782.6 624.7,792.0 616.8,804.5 608.9,818.6 601.0,829.6 593.2,838.2 585.3,843.7 577.4,846.7 569.5,848.3 561.7,850.2 553.8,852.6 545.9,855.8 538.0,860.0 530.1,864.8 522.3,869.0 514.4,871.7 506.5,872.7 498.6,873.0 490.8,873.3 482.9,873.6 475.0,874.1 470.4,875.1 462.5,877.2 454.6,879.6 446.7,881.4 438.9,882.4 431.0,883.0 423.1,883.5 415.2,884.0 407.4,885.1 399.5,887.1 391.6,889.5 383.7,891.1 375.9,891.7 368.0,891.4 360.1,889.8 352.2,887.4 344.4,885.1 336.5,882.4 328.6,879.9 320.7,877.2 312.9,874.5 305.0,872.0 298.8,871.7 290.9,869.8 283.0,868.2 275.2,867.8 267.3,867.8 259.4,868.2 251.5,868.8 243.7,869.6 235.8,870.6 227.9,871.6 220.0,872.2 212.2,872.3 204.3,871.2 198.0,868.1 191.7,861.1 185.4,851.7 179.1,840.7 172.8,829.8 166.5,819.6 160.2,810.2 153.9,801.6 147.6,795.4 141.4,791.6" fill="#808080" stroke="#000" stroke-width="1.1" stroke-linejoin="round"/>
</g>
<path d="M132.6 787.2h17.6M141.4 778.4v17.6M139.7 787.8h17.6M148.5 779.0v17.6M146.9 800.9h17.6M155.7 792.1v17.6M154.0 817.9h17.6M162.8 809.1v17.6M161.2 821.8h17.6M170.0 813.0v17.6M168.3 836.0h17.6M177.1 827.2v17.6M175.5 853.1h17.6M184.3 844.3v17.6M182.6 858.6h17.6M191.4 849.8v17.6M189.7 860.6h17.6M198.5 851.8v17.6M196.9 864.1h17.6M205.7 855.3v17.6M204.0 864.5h17.6M212.8 855.7v17.6M211.2 864.4h17.6M220.0 855.6v17.6M218.3 865.2h17.6M227.1 856.4v17.6M225.5 864.1h17.6M234.3 855.3v17.6M232.6 863.2h17.6M241.4 854.4v17.6M239.7 861.6h17.6M248.5 852.8v17.6M246.9 860.6h17.6M255.7 851.8v17.6M254.0 860.3h17.6M262.8 851.5v17.6M261.2 860.3h17.6M270.0 851.5v17.6M268.3 860.6h17.6M277.1 851.8v17.6M275.5 861.3h17.6M284.3 852.5v17.6M282.6 863.2h17.6M291.4 854.4v17.6M289.7 865.8h17.6M298.5 857.0v17.6M296.9 865.7h17.6M305.7 856.9v17.6M304.0 867.4h17.6M312.8 858.6v17.6M311.2 870.2h17.6M320.0 861.4v17.6M318.3 870.9h17.6M327.1 862.1v17.6M325.5 875.7h17.6M334.3 866.9v17.6M332.6 877.0h17.6M341.4 868.2v17.6M339.7 879.8h17.6M348.5 871.0v17.6M346.9 884.6h17.6M355.7 875.8v17.6M354.0 886.0h17.6M362.8 877.2v17.6M361.2 884.4h17.6M370.0 875.6v17.6M368.3 884.3h17.6M377.1 875.5v17.6M375.5 882.6h17.6M384.3 873.8v17.6M382.6 882.3h17.6M391.4 873.5v17.6M389.8 882.4h17.6M398.6 873.6v17.6M396.9 879.5h17.6M405.7 870.7v17.6M404.0 872.8h17.6M412.8 864.0v17.6M411.2 875.5h17.6M420.0 866.7v17.6M418.3 876.0h17.6M427.1 867.2v17.6M425.5 874.9h17.6M434.3 866.1v17.6M432.6 878.4h17.6M441.4 869.6v17.6M439.8 877.2h17.6M448.6 868.4v17.6M446.9 864.7h17.6M455.7 855.9v17.6M454.0 874.3h17.6M462.8 865.5v17.6M461.2 871.6h17.6M470.0 862.8v17.6M468.3 862.4h17.6M477.1 853.6v17.6M475.5 866.3h17.6M484.3 857.5v17.6M482.6 867.4h17.6M491.4 858.6v17.6M489.8 864.1h17.6M498.6 855.3v17.6M496.9 867.3h17.6M505.7 858.5v17.6M504.0 866.8h17.6M512.8 858.0v17.6M511.2 861.8h17.6M520.0 853.0v17.6M518.3 859.3h17.6M527.1 850.5v17.6M525.5 853.0h17.6M534.3 844.2v17.6M532.6 848.3h17.6M541.4 839.5v17.6M539.8 844.8h17.6M548.6 836.0v17.6M546.9 843.2h17.6M555.7 834.4v17.6M554.0 841.4h17.6M562.8 832.6v17.6M561.2 840.0h17.6M570.0 831.2v17.6M568.3 834.2h17.6M577.1 825.4v17.6M575.5 834.3h17.6M584.3 825.5v17.6M582.6 826.9h17.6M591.4 818.1v17.6M589.8 816.5h17.6M598.6 807.7v17.6M596.9 807.2h17.6M605.7 798.4v17.6M604.0 798.5h17.6M612.8 789.7v17.6M611.2 779.3h17.6M620.0 770.5v17.6M618.3 775.5h17.6M627.1 766.7v17.6M625.5 774.4h17.6M634.3 765.6v17.6M632.6 773.5h17.6M641.4 764.7v17.6M639.8 767.0h17.6M648.6 758.2v17.6" stroke="#ee0000" stroke-width="1.5" fill="none"/>
<polyline points="141.4,783.6 147.6,787.5 153.9,793.8 160.2,802.5 166.5,811.9 172.8,822.2 179.1,833.2 185.4,844.2 191.7,853.7 198.0,860.7 204.3,863.9 212.2,865.0 220.0,865.0 227.9,864.4 235.8,863.4 243.7,862.5 251.5,861.7 259.4,861.1 267.3,860.7 275.2,860.7 283.0,861.2 290.9,862.8 298.8,864.7 305.0,865.0 312.9,867.5 320.7,870.2 328.6,872.9 336.5,875.4 344.4,878.1 352.2,880.4 360.1,882.8 368.0,884.4 375.9,884.7 383.7,884.1 391.6,882.5 399.5,880.1 407.4,878.1 415.2,877.0 423.1,876.5 431.0,876.0 438.9,875.4 446.7,874.4 454.6,872.6 462.5,870.2 470.4,868.1 475.0,867.1 482.9,866.6 490.8,866.3 498.6,866.0 506.5,865.7 514.4,864.7 522.3,861.9 530.1,857.7 538.0,852.9 545.9,848.7 553.8,845.5 561.7,843.0 569.5,841.1 577.4,839.5 585.3,836.4 593.2,830.9 601.0,822.2 608.9,811.2 616.8,797.0 624.7,784.4 632.5,774.9 640.4,771.0 648.3,770.2 653.0,771.5 655.7,773.0" class="cv"/>
<path d="M270.0 890.8V748.3 M398.6 890.8V748.3 M527.1 890.8V748.3 M141.4 768.7H655.7 M141.4 810.0H655.7 M141.4 851.3H655.7" class="grid"/>
<g>
</g>
<path d="M141.4 768.7h11.5M655.7 768.7h-11.5M141.4 810.0h11.5M655.7 810.0h-11.5M141.4 851.3h11.5M655.7 851.3h-11.5M141.4 890.8v-11.5M141.4 748.3v11.5M270.0 890.8v-11.5M270.0 748.3v11.5M398.6 890.8v-11.5M398.6 748.3v11.5M527.1 890.8v-11.5M527.1 748.3v11.5M655.7 890.8v-11.5M655.7 748.3v11.5" class="tk"/>
<rect x="141.4" y="748.3" width="514.3" height="142.5" class="fr"/>
<text x="132.7" y="776.9" class="tl" text-anchor="end">0.02</text>
<text x="132.7" y="818.2" class="tl" text-anchor="end">0.01</text>
<text x="132.7" y="859.5" class="tl" text-anchor="end">0.00</text>
<text x="143.3" y="920.4" class="tl" text-anchor="middle">00:00</text>
<text x="271.9" y="920.4" class="tl" text-anchor="middle">06:00</text>
<text x="400.5" y="920.4" class="tl" text-anchor="middle">12:00</text>
<text x="529.0" y="920.4" class="tl" text-anchor="middle">18:00</text>
<text x="657.6" y="920.4" class="tl" text-anchor="middle">00:00</text>
<text x="399.6" y="959.0" class="xl" text-anchor="middle">Time</text>
<text transform="translate(46.8 671.5) rotate(-90)" class="tl" text-anchor="middle">counts / volume</text>
<text transform="translate(64.5 816.9) rotate(-90)" class="tl" text-anchor="middle">Differences</text>
<text x="837.3 864.9 891.2 917.0 944.0 969.9 975.8 1001.6" y="545.4" class="ttl" filter="url(#thin)">Shopping</text>
<rect x="844.1" y="561.4" width="512.6" height="42.7" class="fr"/>
<line x1="860.7" y1="580.2" x2="878.7" y2="580.2" stroke="#0000ff" stroke-width="3.8"/>
<line x1="1204.8" y1="580.2" x2="1242.4" y2="580.2" stroke="#000" stroke-width="3.8"/>
<text x="920.3" y="589.2" class="lg">Foursquare</text>
<text x="1347.4" y="589.2" class="lg" text-anchor="end">Twitter</text>
<clipPath id="c_shop_top"><rect x="844.1" y="604.1" width="512.6" height="142.4"/></clipPath>
<rect x="844.1" y="604.1" width="512.6" height="142.4" fill="#fff"/>
<g clip-path="url(#c_shop_top)">
</g>
<polyline points="844.3,736.6 860.8,739.0 879.7,741.0 897.1,742.1 916.0,742.6 932.5,743.2 951.4,743.2 968.7,741.6 987.6,739.7 995.5,738.2 1003.4,736.6 1022.2,733.4 1036.0,723.2 1050.5,712.2 1061.5,699.6 1073.4,684.6 1082.8,671.2 1093.8,657.1 1100.1,649.2 1107.2,645.2 1119.0,630.8 1124.5,627.1 1132.4,621.6 1148.9,612.6 1156.8,609.5 1165.5,609.0 1174.1,610.3 1182.7,614.5 1192.2,618.2 1198.5,621.6 1204.8,627.9 1211.1,635.8 1217.4,640.5 1222.9,646.8 1228.4,654.7 1233.9,662.6 1241.0,668.1 1245.7,674.9 1252.1,681.5 1259.1,688.6 1271.0,700.1 1286.7,710.2 1291.4,716.2 1300.1,720.1 1316.6,728.8 1333.2,733.8" class="fs"/>
<polyline points="843.5,713.7 851.4,720.8 858.5,719.6 865.6,720.0 871.9,719.6 878.9,720.8 886.0,715.8 893.1,720.8 900.2,725.9 907.3,703.5 914.4,728.7 922.3,733.4 929.3,733.7 936.4,731.1 943.5,724.8 950.6,718.5 957.7,718.2 964.8,724.8 971.9,720.8 979.0,724.0 986.0,728.4 993.1,727.1 1000.2,716.9 1007.3,718.0 1014.3,710.1 1021.4,710.3 1028.5,712.2 1035.6,698.8 1042.6,701.1 1049.7,700.1 1056.8,696.4 1063.9,691.7 1071.0,679.6 1078.1,680.2 1086.0,676.7 1093.0,658.6 1100.1,659.1 1107.2,671.7 1114.3,672.8 1121.4,659.4 1128.5,669.7 1135.6,666.5 1142.6,649.2 1149.7,667.3 1156.8,665.7 1163.9,666.2 1171.0,669.2 1178.0,675.2 1185.1,674.1 1193.0,677.6 1200.1,671.7 1207.1,670.8 1214.2,670.2 1221.3,674.1 1228.4,673.3 1235.5,691.0 1242.6,691.0 1249.7,680.7 1256.8,695.2 1263.9,683.6 1271.0,688.1 1278.0,695.2 1285.1,694.9 1292.2,691.7 1299.3,697.6 1306.4,703.2 1313.5,700.4 1320.6,699.3 1327.7,707.0 1334.8,705.9 1341.9,704.7 1350.5,709.1" class="tw"/>
<path d="M972.2 746.5V604.1 M1100.4 746.5V604.1 M1228.6 746.5V604.1 M844.1 639.7H1356.7 M844.1 675.3H1356.7 M844.1 710.9H1356.7" class="grid"/>
<g>
</g>
<path d="M844.1 604.1h11.5M1356.7 604.1h-11.5M844.1 639.7h11.5M1356.7 639.7h-11.5M844.1 675.3h11.5M1356.7 675.3h-11.5M844.1 710.9h11.5M1356.7 710.9h-11.5M844.1 746.5h11.5M1356.7 746.5h-11.5M844.1 746.5v-11.5M844.1 604.1v11.5M972.2 746.5v-11.5M972.2 604.1v11.5M1100.4 746.5v-11.5M1100.4 604.1v11.5M1228.6 746.5v-11.5M1228.6 604.1v11.5M1356.7 746.5v-11.5M1356.7 604.1v11.5" class="tk"/>
<rect x="844.1" y="604.1" width="512.6" height="142.4" class="fr"/>
<text x="835.4" y="612.3" class="tl" text-anchor="end">0.04</text>
<text x="835.4" y="647.9" class="tl" text-anchor="end">0.03</text>
<text x="835.4" y="683.5" class="tl" text-anchor="end">0.02</text>
<text x="835.4" y="719.1" class="tl" text-anchor="end">0.01</text>
<text x="835.4" y="754.7" class="tl" text-anchor="end">0.00</text>
<clipPath id="c_shop_bot"><rect x="844.1" y="750.9" width="512.6" height="142.6"/></clipPath>
<rect x="844.1" y="750.9" width="512.6" height="142.6" fill="#fff"/>
<g clip-path="url(#c_shop_bot)">
<clipPath id="c_shop_bot_p"><rect x="844.1" y="750.9" width="512.6" height="96.9"/></clipPath>
<clipPath id="c_shop_bot_n"><rect x="844.1" y="847.8" width="512.6" height="45.7"/></clipPath>
<polygon points="844.1,847.8 844.1,868.6 853.7,869.4 861.6,869.9 869.5,870.2 877.4,870.2 885.2,869.9 893.1,869.4 901.0,868.8 908.9,868.1 916.7,867.5 924.6,867.0 932.5,866.6 940.4,866.3 948.2,865.9 956.1,865.8 964.0,865.9 971.9,866.6 979.7,867.4 987.6,867.8 995.5,868.3 1003.4,868.6 1008.0,868.6 1015.9,868.9 1023.7,868.3 1031.6,867.4 1039.5,865.9 1047.4,864.2 1055.2,862.3 1063.1,860.0 1071.0,856.8 1078.9,852.6 1086.7,847.4 1094.6,841.1 1102.5,834.0 1110.4,826.1 1118.2,817.4 1126.1,809.6 1134.0,802.0 1141.9,795.7 1149.7,791.0 1157.6,787.8 1165.5,785.9 1173.4,785.3 1178.0,785.6 1185.9,787.5 1193.8,790.7 1201.6,795.4 1209.5,801.4 1217.4,808.0 1225.3,815.1 1233.1,822.2 1241.0,829.3 1248.9,836.4 1256.8,843.5 1264.7,849.8 1272.5,855.3 1280.4,860.8 1288.3,865.5 1296.2,869.5 1304.0,872.6 1311.9,875.0 1319.8,876.6 1327.7,877.7 1335.5,878.3 1343.4,878.6 1351.3,878.6 1356.7,878.6 1356.7,847.8" fill="#0000ff" clip-path="url(#c_shop_bot_p)"/>
<polygon points="844.1,847.8 844.1,868.6 853.7,869.4 861.6,869.9 869.5,870.2 877.4,870.2 885.2,869.9 893.1,869.4 901.0,868.8 908.9,868.1 916.7,867.5 924.6,867.0 932.5,866.6 940.4,866.3 948.2,865.9 956.1,865.8 964.0,865.9 971.9,866.6 979.7,867.4 987.6,867.8 995.5,868.3 1003.4,868.6 1008.0,868.6 1015.9,868.9 1023.7,868.3 1031.6,867.4 1039.5,865.9 1047.4,864.2 1055.2,862.3 1063.1,860.0 1071.0,856.8 1078.9,852.6 1086.7,847.4 1094.6,841.1 1102.5,834.0 1110.4,826.1 1118.2,817.4 1126.1,809.6 1134.0,802.0 1141.9,795.7 1149.7,791.0 1157.6,787.8 1165.5,785.9 1173.4,785.3 1178.0,785.6 1185.9,787.5 1193.8,790.7 1201.6,795.4 1209.5,801.4 1217.4,808.0 1225.3,815.1 1233.1,822.2 1241.0,829.3 1248.9,836.4 1256.8,843.5 1264.7,849.8 1272.5,855.3 1280.4,860.8 1288.3,865.5 1296.2,869.5 1304.0,872.6 1311.9,875.0 1319.8,876.6 1327.7,877.7 1335.5,878.3 1343.4,878.6 1351.3,878.6 1356.7,878.6 1356.7,847.8" fill="#00bfbf" clip-path="url(#c_shop_bot_n)"/>
<path d="M844.1 847.8H1356.7" stroke="#000" stroke-width="1.2"/>
<polygon points="844.1,853.3 853.7,854.4 861.6,855.1 869.5,855.6 877.4,855.8 885.2,855.6 893.1,855.2 901.0,854.8 908.9,854.2 916.7,853.7 924.6,853.3 932.5,852.9 940.4,852.7 948.2,852.4 956.1,852.3 964.0,852.4 971.9,853.2 979.7,854.0 987.6,854.4 995.5,854.9 1003.4,855.3 1008.0,855.3 1015.9,855.6 1023.7,855.0 1031.6,854.1 1039.5,852.6 1047.4,850.9 1055.2,849.0 1063.1,846.7 1071.0,843.5 1078.9,839.3 1086.7,834.1 1094.6,827.8 1102.5,820.7 1110.4,812.8 1118.2,804.1 1126.1,796.3 1134.0,788.7 1141.9,782.4 1149.7,777.7 1157.6,774.5 1165.5,772.6 1173.4,772.0 1178.0,772.3 1185.9,774.2 1193.8,777.4 1201.6,782.1 1209.5,788.0 1217.4,794.6 1225.3,801.7 1233.1,808.8 1241.0,815.8 1248.9,822.9 1256.8,829.9 1264.7,836.2 1272.5,841.6 1280.4,847.0 1288.3,851.6 1296.2,855.5 1304.0,858.5 1311.9,860.8 1319.8,862.2 1327.7,863.2 1335.5,863.6 1343.4,863.7 1351.3,863.5 1356.7,863.3 1356.7,893.9 1351.3,893.7 1343.4,893.5 1335.5,893.0 1327.7,892.2 1319.8,891.0 1311.9,889.2 1304.0,886.7 1296.2,883.5 1288.3,879.4 1280.4,874.6 1272.5,869.0 1264.7,863.4 1256.8,857.1 1248.9,849.9 1241.0,842.8 1233.1,835.6 1225.3,828.5 1217.4,821.4 1209.5,814.8 1201.6,808.7 1193.8,804.0 1185.9,800.8 1178.0,798.9 1173.4,798.6 1165.5,799.2 1157.6,801.1 1149.7,804.3 1141.9,809.0 1134.0,815.3 1126.1,822.9 1118.2,830.7 1110.4,839.4 1102.5,847.3 1094.6,854.4 1086.7,860.7 1078.9,865.9 1071.0,870.1 1063.1,873.3 1055.2,875.6 1047.4,877.5 1039.5,879.2 1031.6,880.7 1023.7,881.6 1015.9,882.2 1008.0,881.9 1003.4,881.9 995.5,881.7 987.6,881.2 979.7,880.8 971.9,880.0 964.0,879.4 956.1,879.3 948.2,879.4 940.4,879.9 932.5,880.3 924.6,880.7 916.7,881.3 908.9,882.0 901.0,882.8 893.1,883.6 885.2,884.2 877.4,884.6 869.5,884.8 861.6,884.7 853.7,884.4 844.1,883.9" fill="#808080" stroke="#000" stroke-width="1.1" stroke-linejoin="round"/>
</g>
<path d="M835.3 872.1h17.6M844.1 863.3v17.6M842.4 866.2h17.6M851.2 857.4v17.6M849.5 868.5h17.6M858.3 859.7v17.6M856.7 869.0h17.6M865.5 860.2v17.6M863.8 870.1h17.6M872.6 861.3v17.6M870.9 870.4h17.6M879.7 861.6v17.6M878.0 875.1h17.6M886.8 866.3v17.6M885.1 870.1h17.6M893.9 861.3v17.6M892.3 868.5h17.6M901.1 859.7v17.6M899.4 886.7h17.6M908.2 877.9v17.6M906.5 862.3h17.6M915.3 853.5v17.6M913.6 858.0h17.6M922.4 849.2v17.6M920.7 858.1h17.6M929.5 849.3v17.6M927.9 861.2h17.6M936.7 852.4v17.6M935.0 868.1h17.6M943.8 859.3v17.6M942.1 874.7h17.6M950.9 865.9v17.6M949.2 874.0h17.6M958.0 865.2v17.6M956.3 866.6h17.6M965.1 857.8v17.6M963.5 869.9h17.6M972.2 861.1v17.6M970.6 865.5h17.6M979.4 856.7v17.6M977.7 860.3h17.6M986.5 851.5v17.6M984.8 861.1h17.6M993.6 852.3v17.6M991.9 869.7h17.6M1000.7 860.9v17.6M999.0 867.9h17.6M1007.8 859.1v17.6M1006.2 874.4h17.6M1015.0 865.6v17.6M1013.3 872.7h17.6M1022.1 863.9v17.6M1020.4 866.7h17.6M1029.2 857.9v17.6M1027.5 873.8h17.6M1036.3 865.0v17.6M1034.6 865.8h17.6M1043.4 857.0v17.6M1041.8 861.4h17.6M1050.6 852.6v17.6M1048.9 856.7h17.6M1057.7 847.9v17.6M1056.0 853.5h17.6M1064.8 844.7v17.6M1063.1 855.2h17.6M1071.9 846.4v17.6M1070.2 844.3h17.6M1079.0 835.5v17.6M1077.4 837.6h17.6M1086.2 828.8v17.6M1084.5 846.9h17.6M1093.3 838.1v17.6M1091.6 836.3h17.6M1100.4 827.5v17.6M1098.7 818.5h17.6M1107.5 809.7v17.6M1105.8 808.6h17.6M1114.6 799.8v17.6M1113.0 814.1h17.6M1121.8 805.3v17.6M1120.1 798.4h17.6M1128.9 789.6v17.6M1127.2 797.9h17.6M1136.0 789.1v17.6M1134.3 810.0h17.6M1143.1 801.2v17.6M1141.4 787.9h17.6M1150.2 779.1v17.6M1148.6 786.6h17.6M1157.4 777.8v17.6M1155.7 785.4h17.6M1164.5 776.6v17.6M1162.8 782.8h17.6M1171.6 774.0v17.6M1169.9 779.8h17.6M1178.7 771.0v17.6M1177.0 784.0h17.6M1185.8 775.2v17.6M1184.2 783.7h17.6M1193.0 774.9v17.6M1191.3 795.0h17.6M1200.1 786.2v17.6M1198.4 804.4h17.6M1207.2 795.6v17.6M1205.5 812.9h17.6M1214.3 804.1v17.6M1212.6 816.3h17.6M1221.4 807.5v17.6M1219.8 827.4h17.6M1228.6 818.6v17.6M1226.9 818.4h17.6M1235.7 809.6v17.6M1234.0 826.0h17.6M1242.8 817.2v17.6M1241.1 845.8h17.6M1249.9 837.0v17.6M1248.2 838.7h17.6M1257.0 829.9v17.6M1255.3 858.4h17.6M1264.1 849.6v17.6M1262.5 860.7h17.6M1271.3 851.9v17.6M1269.6 858.3h17.6M1278.4 849.5v17.6M1276.7 863.8h17.6M1285.5 855.0v17.6M1283.8 874.6h17.6M1292.6 865.8v17.6M1290.9 871.7h17.6M1299.7 862.9v17.6M1298.1 870.2h17.6M1306.9 861.4v17.6M1305.2 877.3h17.6M1314.0 868.5v17.6M1312.3 880.8h17.6M1321.1 872.0v17.6M1319.4 875.4h17.6M1328.2 866.6v17.6M1326.5 878.2h17.6M1335.3 869.4v17.6M1333.7 879.1h17.6M1342.5 870.3v17.6M1340.8 875.2h17.6M1349.6 866.4v17.6" stroke="#ee0000" stroke-width="1.5" fill="none"/>
<polyline points="844.1,868.6 853.7,869.4 861.6,869.9 869.5,870.2 877.4,870.2 885.2,869.9 893.1,869.4 901.0,868.8 908.9,868.1 916.7,867.5 924.6,867.0 932.5,866.6 940.4,866.3 948.2,865.9 956.1,865.8 964.0,865.9 971.9,866.6 979.7,867.4 987.6,867.8 995.5,868.3 1003.4,868.6 1008.0,868.6 1015.9,868.9 1023.7,868.3 1031.6,867.4 1039.5,865.9 1047.4,864.2 1055.2,862.3 1063.1,860.0 1071.0,856.8 1078.9,852.6 1086.7,847.4 1094.6,841.1 1102.5,834.0 1110.4,826.1 1118.2,817.4 1126.1,809.6 1134.0,802.0 1141.9,795.7 1149.7,791.0 1157.6,787.8 1165.5,785.9 1173.4,785.3 1178.0,785.6 1185.9,787.5 1193.8,790.7 1201.6,795.4 1209.5,801.4 1217.4,808.0 1225.3,815.1 1233.1,822.2 1241.0,829.3 1248.9,836.4 1256.8,843.5 1264.7,849.8 1272.5,855.3 1280.4,860.8 1288.3,865.5 1296.2,869.5 1304.0,872.6 1311.9,875.0 1319.8,876.6 1327.7,877.7 1335.5,878.3 1343.4,878.6 1351.3,878.6 1356.7,878.6" class="cv"/>
<path d="M972.2 893.5V750.9 M1100.4 893.5V750.9 M1228.6 893.5V750.9 M844.1 770.4H1356.7 M844.1 809.1H1356.7 M844.1 847.8H1356.7 M844.1 886.5H1356.7" class="grid"/>
<g>
</g>
<path d="M844.1 770.4h11.5M1356.7 770.4h-11.5M844.1 809.1h11.5M1356.7 809.1h-11.5M844.1 847.8h11.5M1356.7 847.8h-11.5M844.1 886.5h11.5M1356.7 886.5h-11.5M844.1 893.5v-11.5M844.1 750.9v11.5M972.2 893.5v-11.5M972.2 750.9v11.5M1100.4 893.5v-11.5M1100.4 750.9v11.5M1228.6 893.5v-11.5M1228.6 750.9v11.5M1356.7 893.5v-11.5M1356.7 750.9v11.5" class="tk"/>
<rect x="844.1" y="750.9" width="512.6" height="142.6" class="fr"/>
<text x="835.4" y="778.6" class="tl" text-anchor="end">0.02</text>
<text x="835.4" y="817.3" class="tl" text-anchor="end">0.01</text>
<text x="835.4" y="856.0" class="tl" text-anchor="end">0.00</text>
<text x="835.4" y="894.7" class="tl" text-anchor="end">−0.01</text>
<text x="846.0" y="923.1" class="tl" text-anchor="middle">00:00</text>
<text x="974.1" y="923.1" class="tl" text-anchor="middle">06:00</text>
<text x="1102.3" y="923.1" class="tl" text-anchor="middle">12:00</text>
<text x="1230.5" y="923.1" class="tl" text-anchor="middle">18:00</text>
<text x="1358.6" y="923.1" class="tl" text-anchor="middle">00:00</text>
<text x="1101.4" y="961.7" class="xl" text-anchor="middle">Time</text>
<text transform="translate(764.7 674.2) rotate(-90)" class="tl" text-anchor="middle">counts / volume</text>
<text transform="translate(748.1 819.6) rotate(-90)" class="tl" text-anchor="middle">Differences</text>
</svg>
</body></html>
